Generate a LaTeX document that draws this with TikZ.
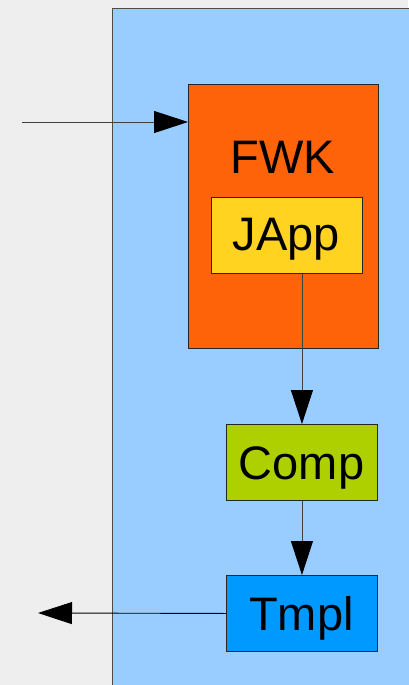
\documentclass[tikz,border=0pt]{standalone}
\usepackage{fontspec}
\setmainfont{Liberation Sans}
\usetikzlibrary{arrows.meta}
\definecolor{bggray}{HTML}{EEEEEE}
\definecolor{paleblue}{HTML}{99CCFF}
\definecolor{fwkorange}{HTML}{FF6309}
\definecolor{appyellow}{HTML}{FFD320}
\definecolor{compgreen}{HTML}{AECF00}
\definecolor{tmplblue}{HTML}{0099FF}
\tikzset{
  box/.style={draw=black!85, line width=0.9pt, rectangle, inner sep=0pt, anchor=north west},
  lbl/.style={font=\fontsize{47}{50}\selectfont, anchor=base, inner sep=0pt},
  conn/.style={draw=black!75, line width=0.9pt, -{Triangle[length=34pt,width=22pt,color=black,fill=black]}}
}
\begin{document}
\begin{tikzpicture}[x=1pt,y=-1pt]
\useasboundingbox (0,0) rectangle (408,685);
\fill[bggray] (0,0) rectangle (408,685);
\node[box, draw=black!70, fill=paleblue, minimum width=310pt, minimum height=690pt] (frame) at (112,8) {};
\node[box, fill=fwkorange, minimum width=190pt, minimum height=264pt] (fwk) at (188,84) {};
\node[lbl] (fwklbl) at (283,173) {FWK};
\node[box, fill=appyellow, minimum width=151pt, minimum height=76pt] (japp) at (211,197) {};
\node[lbl] (japplbl) at (286.5,250) {JApp};
\node[box, fill=compgreen, minimum width=151pt, minimum height=76pt] (comp) at (226,424) {};
\node[lbl] (complbl) at (301.5,479) {Comp};
\node[box, fill=tmplblue, minimum width=151pt, minimum height=76pt] (tmpl) at (226,575) {};
\node[lbl] (tmpllbl) at (301.5,630) {Tmpl};
\coordinate (in) at (22,122);
\coordinate (out) at (38,613);
\draw[conn] (in) -- (in -| fwk.west);
\draw[conn] (japp.south -| comp.north) -- (comp.north);
\draw[conn] (comp.south) -- (tmpl.north);
\draw[conn, draw=black] (tmpl.west) -- (out);
\end{tikzpicture}
\end{document}
